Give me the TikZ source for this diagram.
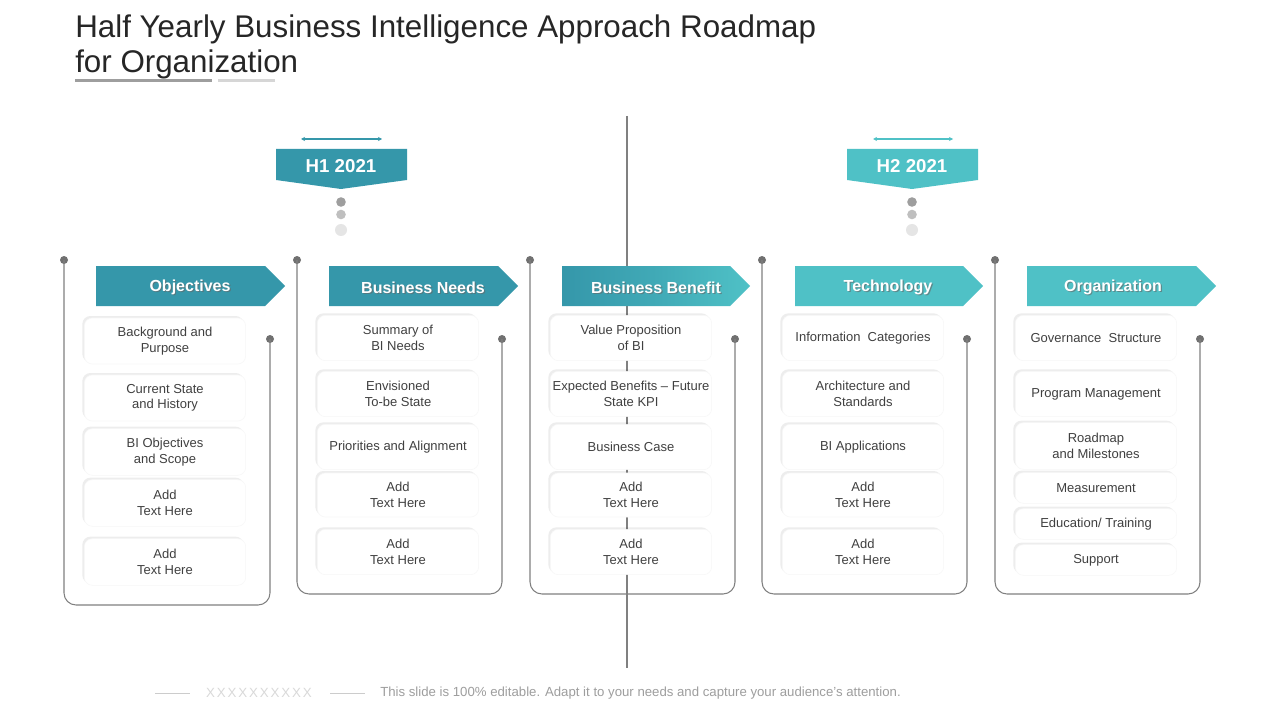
\documentclass[tikz,border=0pt]{standalone}
\usepackage{fontspec}
\setmainfont{Liberation Sans}
\usetikzlibrary{arrows.meta,shadows}
\definecolor{tealD}{HTML}{3597AA}
\definecolor{tealL}{HTML}{4FC1C6}
\definecolor{txt}{HTML}{404040}
\definecolor{brk}{HTML}{808080}
\definecolor{dotc}{HTML}{707070}
\tikzset{
  itembox/.style={rectangle, rounded corners=6pt, minimum width=121pt, fill=white, draw=black!3,
    font=\fontsize{9.75}{11.7}\selectfont, text=txt, align=center, inner sep=1pt,
    drop shadow={shadow xshift=-1.5pt, shadow yshift=1.5pt, opacity=0.07, fill=black}},
  bracket/.style={draw=brk, line width=0.8pt, rounded corners=9pt},
  bdot/.style={circle, fill=dotc, inner sep=0pt, minimum size=6pt},
  hdrtext/.style={text=white, font=\fontsize{12}{14}\bfseries\selectfont},
  hdrshadow/.style={text=black!60, opacity=0.6, font=\fontsize{12}{14}\bfseries\selectfont},
  htext/.style={text=white, font=\fontsize{14}{16}\bfseries\selectfont},
  ttl/.style={anchor=base west, text=black!85, font=\fontsize{23.5}{28}\selectfont, inner sep=0pt},
}
\begin{document}
\begin{tikzpicture}[x=0.75pt,y=-0.75pt]
\useasboundingbox (0,0) rectangle (1280,720);
\fill[white] (0,0) rectangle (1280,720);

% title
\node[ttl] (t1) at (75,38) {Half Yearly Business Intelligence Approach Roadmap};
\node[ttl] (t2) at (75,73) {for Organization};
\draw[line width=2.4pt, black!38] (75,80.5) -- (212,80.5);
\draw[line width=2.4pt, black!16] (218,80.5) -- (275,80.5);

% central line
\coordinate (ctop) at (627,116);
\coordinate (cbot) at (627,668);
\draw[brk, line width=0.8pt] (ctop) -- (cbot);

% H1 banner
\draw[tealD, line width=1.5pt, {Stealth[length=3pt,width=3pt]}-{Stealth[length=3pt,width=3pt]}] (301,139) -- (382,139);
\fill[tealD] (276,149) -- (407,149) -- (407,180) -- (341,189) -- (276,180) -- cycle;
\node[htext] (h1) at (341,166) {H1 2021};
\fill[black!38] (341,202) circle (4.8);
\fill[black!25] (341,214.5) circle (4.8);
\fill[black!10] (341,230) circle (6);

% H2 banner
\draw[tealL, line width=1.5pt, {Stealth[length=3pt,width=3pt]}-{Stealth[length=3pt,width=3pt]}] (873,139) -- (953,139);
\fill[tealL] (847,149) -- (978,149) -- (978,180) -- (912,189) -- (847,180) -- cycle;
\node[htext] (h2) at (912,166) {H2 2021};
\fill[black!38] (912,202) circle (4.8);
\fill[black!25] (912,214.5) circle (4.8);
\fill[black!10] (912,230) circle (6);

% brackets
\foreach \l/\r/\b/\n in {64/270/605/1, 297/502/594/2, 530/735/594/3, 762/967/594/4, 995/1200/594/5}{
  \node[bdot] (dl\n) at (\l,260) {};
  \node[bdot] (dr\n) at (\r,339) {};
  \draw[bracket] (dl\n.center) -- (\l,\b) -- (\r,\b) -- (dr\n.center);
}

% headers
\fill[tealD] (96,266) -- (265,266) -- (285,286) -- (265,306) -- (96,306) -- cycle;
\fill[tealD] (329,266) -- (498,266) -- (518,286) -- (498,306) -- (329,306) -- cycle;
\shade[left color=tealD, right color=tealL, middle color=tealD!55!tealL] (562,266) -- (730,266) -- (750,286) -- (730,306) -- (562,306) -- cycle;
\fill[tealL] (795,266) -- (963,266) -- (983,286) -- (963,306) -- (795,306) -- cycle;
\fill[tealL] (1027,266) -- (1196,266) -- (1216,286) -- (1196,306) -- (1027,306) -- cycle;
\foreach \x/\t/\n in {190/Objectives/1, 423/Business Needs/2, 656/Business Benefit/3, 888/Technology/4, 1113/Organization/5}{
  \node[hdrshadow] (hs\n) at (\x+1.2,288.7) {\t};
  \node[hdrtext] (ht\n) at (\x,287.5) {\t};
}

% column 1
\node[itembox, minimum height=34.5pt] (a1) at (165,341) {Background and\\Purpose};
\node[itembox, minimum height=34.5pt] (a2) at (165,398) {Current State\\and History};
\node[itembox, minimum height=35pt] (a3) at (165,452) {BI Objectives\\and Scope};
\node[itembox, minimum height=35pt] (a4) at (165,503) {Add\\Text Here};
\node[itembox, minimum height=35pt] (a5) at (165,562) {Add\\Text Here};

% column 2
\node[itembox, minimum height=34pt] (b1) at (398,338) {Summary of\\BI Needs};
\node[itembox, minimum height=34pt] (b2) at (398,394) {Envisioned\\To-be State};
\node[itembox, minimum height=34pt] (b3) at (398,447) {Priorities and Alignment};
\node[itembox, minimum height=33pt] (b4) at (398,495) {Add\\Text Here};
\node[itembox, minimum height=34pt] (b5) at (398,552) {Add\\Text Here};

% column 3
\node[itembox, minimum height=34pt] (c1) at (631,338) {Value Proposition\\of BI};
\node[itembox, minimum height=34pt] (c2) at (631,394) {Expected Benefits -- Future\\State KPI};
\node[itembox, minimum height=34pt] (c3) at (631,447) {Business Case};
\node[itembox, minimum height=33pt] (c4) at (631,495) {Add\\Text Here};
\node[itembox, minimum height=34pt] (c5) at (631,552) {Add\\Text Here};

% column 4
\node[itembox, minimum height=34pt] (d1) at (863,338) {Information\ \ Categories};
\node[itembox, minimum height=34pt] (d2) at (863,394) {Architecture and\\Standards};
\node[itembox, minimum height=34pt] (d3) at (863,447) {BI Applications};
\node[itembox, minimum height=33pt] (d4) at (863,495) {Add\\Text Here};
\node[itembox, minimum height=34pt] (d5) at (863,552) {Add\\Text Here};

% column 5
\node[itembox, minimum height=34pt] (e1) at (1096,338) {Governance\ \ Structure};
\node[itembox, minimum height=34pt] (e2) at (1096,394) {Program\ Management};
\node[itembox, minimum height=35pt] (e3) at (1096,446) {Roadmap\\and Milestones};
\node[itembox, minimum height=23pt] (e4) at (1096,488) {Measurement};
\node[itembox, minimum height=23pt] (e5) at (1096,524) {Education/ Training};
\node[itembox, minimum height=23pt] (e6) at (1096,560) {Support};

% footer
\draw[black!20, line width=0.6pt] (155,693) -- (190,693);
\node[text=black!15, font=\fontsize{10}{12}\selectfont\addfontfeatures{LetterSpace=14}] (fx) at (259,693) {XXXXXXXXXX};
\draw[black!20, line width=0.6pt] (330,693) -- (365,693);
\node[anchor=west, text=black!38, font=\fontsize{9.9}{12}\selectfont, inner sep=0pt] (ft) at (380,693) {This slide is 100\% editable. Adapt it to your needs and capture your audience's attention.};
\end{tikzpicture}
\end{document}
